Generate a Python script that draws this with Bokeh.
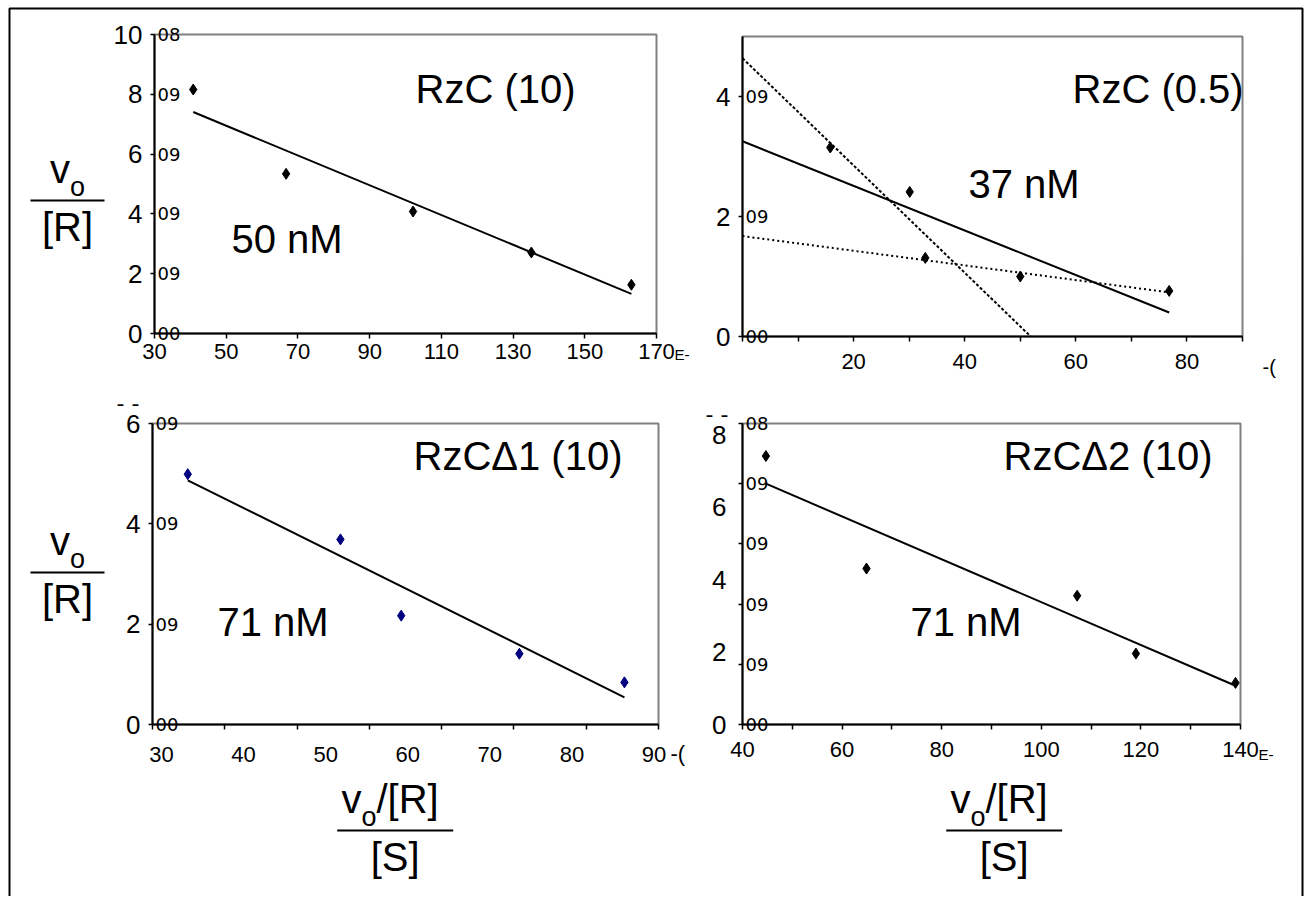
import numpy as np
from bokeh.plotting import figure
from bokeh.models import Range1d, FixedTicker, LabelSet, ColumnDataSource, LinearAxis
from bokeh.embed import file_html
from bokeh.resources import INLINE
from bokeh.core.properties import value

FONT = "Liberation Sans"
SMALL = "DejaVu Sans"

# ---------------- data ----------------
rzc10_x = [40.8, 66.7, 102.1, 135.1, 163.0]
rzc10_y = [8.16, 5.34, 4.08, 2.71, 1.63]

rzc05_x = [15.8, 30.1, 32.9, 50.0, 76.8]
rzc05_y = [3.15, 2.41, 1.31, 1.00, 0.76]

d1_x = [33.2, 51.8, 59.2, 73.6, 86.4]
d1_y = [4.99, 3.69, 2.17, 1.41, 0.84]

d2_x = [44.7, 64.9, 107.2, 119.0, 139.0]
d2_y = [7.42, 4.31, 3.56, 1.96, 1.15]

# ---------------- ticks / labels ----------------
tl_xb, tl_yb = (30, 170), (0, 10)
tl_xticks = [30, 50, 70, 90, 110, 130, 150, 170]
tl_yticks = [0, 2, 4, 6, 8, 10]
tl_exp = ["00", "09", "09", "09", "09", "08"]

tr_xb, tr_yb = (0, 90), (0, 5)
tr_xticks = [20, 40, 60, 80]
tr_xminor = [0, 10, 30, 50, 70, 90]
tr_yticks = [0, 2, 4]
tr_exp = ["00", "09", "09"]

bl_xb, bl_yb = (28.9, 90.55), (0, 6)
bl_xlabels = [30, 40, 50, 60, 70, 80, 90]
bl_yticks = [0, 2, 4, 6]
bl_exp = ["00", "09", "09", "09"]

br_xb, br_yb = (40, 140), (0, 8.32)
br_xticks = [40, 60, 80, 100, 120, 140]
br_xminor = [50, 70, 90, 110, 130]
br_ylabels = [0, 2, 4, 6, 8]
br_exp = ["00", "09", "09", "09", "09", "08"]

# ---------------- canvas (page pixel coordinates) ----------------
W, H = 1310, 896
p = figure(width=W, height=H, x_range=Range1d(0, W), y_range=Range1d(H, 0),
           x_axis_location=None, y_axis_location=None, toolbar_location=None,
           output_backend="svg", min_border=0, title=None,
           outline_line_color=None)
p.grid.grid_line_color = None
p.background_fill_color = "white"
p.border_fill_color = "white"


def panel(name, frame, xb, yb):
    """frame = (px_left, px_right, py_bottom, py_top) in page pixels."""
    px0, px1, py0, py1 = frame
    kx = (xb[1] - xb[0]) / (px1 - px0)
    ky = (yb[1] - yb[0]) / (py0 - py1)
    p.extra_x_ranges[name + "x"] = Range1d(xb[0] - px0 * kx, xb[0] + (W - px0) * kx)
    p.extra_y_ranges[name + "y"] = Range1d(yb[0] + (py0 - H) * ky, yb[0] + py0 * ky)
    rn = dict(x_range_name=name + "x", y_range_name=name + "y")
    # plot-area border (gray top/right; left/bottom covered by the axes)
    p.quad(left=[xb[0]], right=[xb[1]], bottom=[yb[0]], top=[yb[1]],
           fill_color=None, line_color="#808080", line_width=2, **rn)
    return rn


def style_axis(ax, size, tick_out, standoff):
    ax.axis_line_color = "black"
    ax.axis_line_width = 2
    ax.major_tick_line_color = "black"
    ax.major_tick_line_width = 1.5
    ax.minor_tick_line_color = "black"
    ax.minor_tick_line_width = 1.5
    ax.major_tick_in = 0
    ax.minor_tick_in = 0
    ax.major_tick_out = tick_out
    ax.minor_tick_out = tick_out
    ax.major_label_text_font = FONT
    ax.major_label_text_font_size = size
    ax.major_label_text_color = "black"
    ax.major_label_standoff = standoff


def add_axes(rn, xb, yb, xticker, yticker, x_standoff=12, y_standoff=8,
             x_major_out=5, y_major_out=4):
    xa = LinearAxis(fixed_location=yb[0], bounds=xb, ticker=xticker, **rn)
    style_axis(xa, "22px", 5, x_standoff)
    xa.major_tick_out = x_major_out
    p.add_layout(xa, "below")
    ya = LinearAxis(fixed_location=xb[0], bounds=yb, ticker=yticker, **rn)
    style_axis(ya, "26px", 4, y_standoff)
    ya.major_tick_out = y_major_out
    p.add_layout(ya, "left")


def add_exp(rn, ticks, texts, xstart):
    src = ColumnDataSource(dict(x=[xstart] * len(ticks), y=list(ticks), t=texts))
    p.add_layout(LabelSet(x="x", y="y", text="t", source=src, x_offset=3,
                          text_baseline="middle", text_align="left",
                          text_font=value(SMALL), text_font_size=value("18px"),
                          text_color="black", **rn))


def fit_line(rn, xs, ys, x_from, x_to, dash="solid"):
    m, b = np.polyfit(xs, ys, 1)
    if x_to is None:
        x_to = -b / m
    xx = np.array([x_from, x_to])
    p.line(xx, m * xx + b, line_color="black", line_width=2, line_dash=dash, **rn)


def txt(x, base, s, size, align="left", font=FONT):
    """place text so that its alphabetic baseline sits at page row `base`."""
    px = float(size.replace("px", ""))
    p.text(x=[x], y=[base - 0.3465 * px], text=[s], text_font=value(font),
           text_font_size=size, text_align=align, text_baseline="middle",
           text_color="black")


# ---------------- top-left: RzC (10) ----------------
rn = panel("tl", (154, 656, 333, 34), tl_xb, tl_yb)
add_axes(rn, tl_xb, tl_yb, FixedTicker(ticks=tl_xticks), FixedTicker(ticks=tl_yticks),
         x_standoff=5)
fit_line(rn, rzc10_x, rzc10_y, min(rzc10_x), max(rzc10_x))
p.scatter(rzc10_x, rzc10_y, marker="diamond", size=11, color="black", **rn)
add_exp(rn, tl_yticks, tl_exp, tl_xb[0])
txt(415, 102, "RzC (10)", "40px")
txt(231, 252, "50 nM", "40px")
txt(674, 359, "E-", "15px")

# ---------------- top-right: RzC (0.5) ----------------
rn = panel("tr", (742, 1242, 336, 36), tr_xb, tr_yb)
add_axes(rn, tr_xb, tr_yb, FixedTicker(ticks=tr_xticks, minor_ticks=tr_xminor),
         FixedTicker(ticks=tr_yticks))
fit_line(rn, rzc05_x, rzc05_y, 0, max(rzc05_x))
fit_line(rn, rzc05_x[:3], rzc05_y[:3], 0, None, dash="3 2")
fit_line(rn, rzc05_x[2:], rzc05_y[2:], 0, max(rzc05_x), dash="2 3")
p.scatter(rzc05_x, rzc05_y, marker="diamond", size=11, color="black", **rn)
add_exp(rn, tr_yticks, tr_exp, tr_xb[0])
txt(1072, 102, "RzC (0.5)", "40px")
txt(968, 197, "37 nM", "40px")
txt(1262, 373, "-(", "20px")

# ---------------- bottom-left: RzCΔ1 (10) ----------------
rn = panel("bl", (152, 658, 724, 423), bl_xb, bl_yb)
add_axes(rn, bl_xb, bl_yb,
         FixedTicker(ticks=bl_xlabels, minor_ticks=list(np.linspace(bl_xb[0], bl_xb[1], 8))),
         FixedTicker(ticks=bl_yticks), x_standoff=17, x_major_out=0)
fit_line(rn, d1_x, d1_y, min(d1_x), max(d1_x))
p.scatter(d1_x, d1_y, marker="diamond", size=11, color="#000080", **rn)
add_exp(rn, bl_yticks, bl_exp, bl_xb[0])
txt(413, 469, "RzCΔ1 (10)", "40px")
txt(217, 635, "71 nM", "40px")
txt(670, 761, "-(", "22px")
txt(116, 411, "- -", "22px", font=SMALL)

# ---------------- bottom-right: RzCΔ2 (10) ----------------
rn = panel("br", (742, 1240, 724, 423), br_xb, br_yb)
br_yminor = list(np.linspace(br_yb[0], br_yb[1], 6))
add_axes(rn, br_xb, br_yb, FixedTicker(ticks=br_xticks, minor_ticks=br_xminor),
         FixedTicker(ticks=br_ylabels, minor_ticks=br_yminor),
         y_standoff=12, y_major_out=0)
fit_line(rn, d2_x, d2_y, min(d2_x), max(d2_x))
p.scatter(d2_x, d2_y, marker="diamond", size=11, color="black", **rn)
add_exp(rn, br_yminor, br_exp, br_xb[0])
txt(1003, 469, "RzCΔ2 (10)", "40px")
txt(910, 635, "71 nM", "40px")
txt(1258, 759, "E-", "15px")
txt(705, 422, "- -", "22px", font=SMALL)


# ---------------- axis-title fractions ----------------
def y_fraction(bar_y):
    txt(49.5, bar_y - 18, "v", "40px")
    txt(69.5, bar_y - 4, "o", "27px")
    p.segment(x0=[30], y0=[bar_y], x1=[104], y1=[bar_y], line_color="black", line_width=2)
    txt(67, bar_y + 40, "[R]", "40px", align="center")


def x_fraction(vx, bx0, bx1, bar_y=830):
    txt(vx, bar_y - 18, "v", "40px")
    txt(vx + 20, bar_y - 4, "o", "27px")
    txt(vx + 35, bar_y - 18, "/[R]", "40px")
    p.segment(x0=[bx0], y0=[bar_y], x1=[bx1], y1=[bar_y], line_color="black", line_width=2)
    txt((bx0 + bx1) / 2, bar_y + 40, "[S]", "40px", align="center")


y_fraction(200)
y_fraction(572)
x_fraction(341, 336.7, 452.7)
x_fraction(950, 945.7, 1061.7)

# page frame (left, top, right sides)
p.line(x=[9, 9, 1302, 1302], y=[H, 8, 8, H], line_color="black", line_width=2)

open("out.html", "w").write(file_html(p, INLINE))
